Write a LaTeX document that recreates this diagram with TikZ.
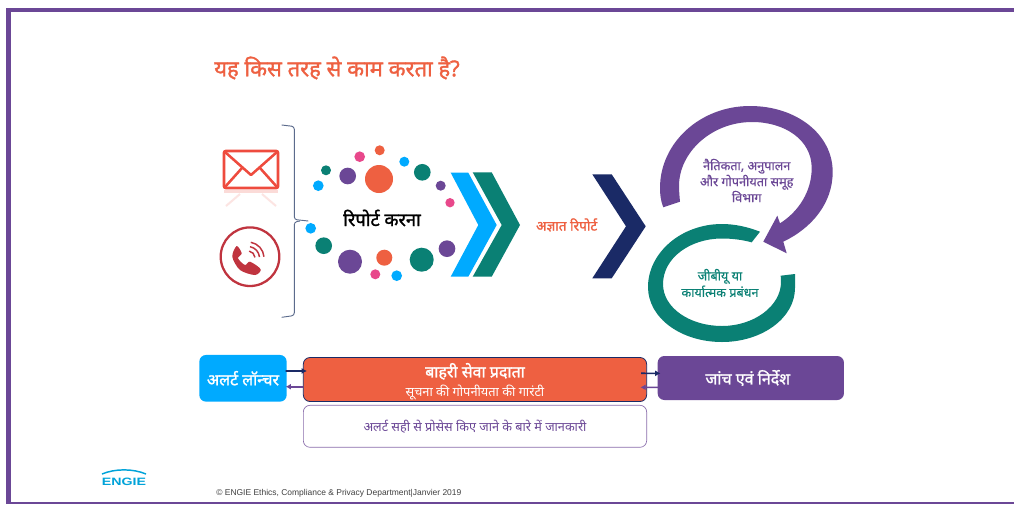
\documentclass[tikz,border=0pt]{standalone}
\usepackage{fontspec}
\setmainfont[Script=Devanagari]{Noto Sans}
\newfontfamily\heavyfont[Script=Devanagari,FakeBold=1.4]{Noto Sans}
\newfontfamily\mediumfont[Script=Devanagari,FakeBold=0.5]{Noto Sans}
\newfontfamily\latinfont{Liberation Sans}
\definecolor{rimpurple}{HTML}{6B4796}
\definecolor{ringteal}{HTML}{0A8074}
\definecolor{skyblue}{HTML}{00AAFF}
\definecolor{flameorange}{HTML}{EE6041}
\definecolor{dotpink}{HTML}{E8488B}
\definecolor{deepnavy}{HTML}{1A2A66}
\definecolor{mailred}{HTML}{EE4B3E}
\definecolor{phonered}{HTML}{C0343F}
\definecolor{bracketgrey}{HTML}{5B6B8C}
\definecolor{engieblue}{HTML}{00A3D9}
\usetikzlibrary{arrows.meta}

\begin{document}
\begin{tikzpicture}[x=0.75pt,y=-0.75pt]
        \tikzset{dot/.style = {shape=circle,inner sep=0pt,minimum size=#1}}
        \tikzset{box/.style = {shape=rectangle,rounded corners=5pt,inner sep=0pt,text=white}}
        \tikzset{link/.style = {-{Latex[length=4pt,width=4.5pt]},line width=1.2pt}}
        \tikzset{lbl/.style = {inner sep=0pt,align=center}}
        \useasboundingbox (0,0) rectangle (1014,504);
        % frame
        \fill[white] (0,0) rectangle (1014,504);
        \fill[rimpurple] (5.5,8) rectangle (1014,11.5);
        \fill[rimpurple] (5.5,8) rectangle (11,504);
        \fill[rimpurple] (5.5,501.5) rectangle (1014,504);
        % title
        \node[lbl,text=flameorange,font=\heavyfont\fontsize{16.5pt}{20pt}\selectfont] (title) at (337,68) {यह किस तरह से काम करता है?};
        % mail icon
        \draw[mailred,line width=2.1pt,rounded corners=1.5pt] (224,151) rectangle (278,188);
        \draw[mailred,line width=1.9pt,line join=round] (225,152) -- (251,175) -- (277,152);
        \draw[mailred,line width=1.9pt] (225,187) -- (242,168) (277,187) -- (260,168);
        \draw[mailred,opacity=.2,line width=1.6pt] (224,191.5) -- (278,191.5);
        \draw[mailred,opacity=.15,line width=1.5pt] (226,206) -- (240,194) (276,206) -- (262,194);
        % phone icon
        \draw[phonered,line width=1.7pt] (250,256.7) circle (29.3);
        \fill[phonered] plot[smooth cycle] coordinates {(236.7,246) (241.7,253.3) (238,258.3) (245,265) (250,261.7) (260.7,269.3) (255,275) (240,270) (232.3,256.7)};
        \draw[phonered,line width=1.1pt] (249.2,251.1) arc[start angle=-80,end angle=-5,radius=7];
        \draw[phonered,line width=1.1pt] (250,246.7) arc[start angle=-80,end angle=-5,radius=11.5];
        \draw[phonered,line width=1.1pt] (250.8,242.3) arc[start angle=-80,end angle=-5,radius=16];
        % bracket
        \draw[bracketgrey,line width=.7pt,rounded corners=2pt] (281.7,125) -- (294.3,126.5) -- (294.3,219.5) -- (308.3,221);
        \draw[bracketgrey,line width=.7pt,rounded corners=2pt] (281.7,317.3) -- (294.3,315.5) -- (294.3,222) -- (300,221);
        % dots
        \node[dot=21pt,fill=flameorange] (d1) at (379,179) {};
        \node[dot=12.5pt,fill=rimpurple] (d2) at (347.7,176) {};
        \node[dot=7.5pt,fill=ringteal] (d3) at (326,170.3) {};
        \node[dot=8pt,fill=skyblue] (d4) at (318.3,185.7) {};
        \node[dot=8pt,fill=dotpink] (d5) at (359.7,156.7) {};
        \node[dot=7.5pt,fill=flameorange] (d6) at (379.7,150.3) {};
        \node[dot=7.5pt,fill=skyblue] (d7) at (404.3,161.7) {};
        \node[dot=12.5pt,fill=ringteal] (d8) at (422.3,172.3) {};
        \node[dot=7.5pt,fill=rimpurple] (d9) at (440.7,185.7) {};
        \node[dot=7pt,fill=dotpink] (d10) at (450,202.7) {};
        \node[dot=8pt,fill=skyblue] (d11) at (310.7,228.3) {};
        \node[dot=12.5pt,fill=ringteal] (d12) at (323.7,245.7) {};
        \node[dot=18pt,fill=rimpurple] (d13) at (350,261.7) {};
        \node[dot=12pt,fill=flameorange] (d14) at (384.3,257.7) {};
        \node[dot=7.5pt,fill=dotpink] (d15) at (375.3,274.3) {};
        \node[dot=8pt,fill=skyblue] (d16) at (396.7,275.7) {};
        \node[dot=18pt,fill=ringteal] (d17) at (421.7,259.7) {};
        \node[dot=12.5pt,fill=rimpurple] (d18) at (447,248.7) {};
        \node[lbl,text=black,font=\heavyfont\fontsize{13.7pt}{16pt}\selectfont] (report) at (382,218) {रिपोर्ट करना};
        % chevrons
        \fill[skyblue] (450.7,172.7) -- (468.3,172.7) -- (496.7,225) -- (468.3,276.7) -- (450.7,276.7) -- (478.3,225) -- cycle;
        \fill[ringteal] (472.7,172.3) -- (491.7,172.3) -- (520,225) -- (491.7,276.7) -- (472.7,276.7) -- (501.7,225) -- cycle;
        \fill[deepnavy] (592.3,174.3) -- (611.7,174.3) -- (645.7,226.3) -- (611.7,278.3) -- (592.3,278.3) -- (626,226.3) -- cycle;
        \node[lbl,text=flameorange,font=\heavyfont\fontsize{10.2pt}{12pt}\selectfont] (anon) at (566.7,225) {अज्ञात रिपोर्ट};
        % rings
        \fill[rimpurple] (663.3,207.3) .. controls (660.5,200) and (660,194) .. (660,188)
            .. controls (660,143) and (700,106) .. (750,106)
            .. controls (796,106) and (832.7,134) .. (832.7,172)
            .. controls (832.7,203) and (812,228) .. (783.3,241.7)
            -- (786.7,253.3) -- (763.3,241.7) -- (777.3,215.7) -- (780,223.3)
            .. controls (798,212) and (811.7,192) .. (811.7,168)
            .. controls (811.7,140) and (785,122) .. (752,122)
            .. controls (712,122) and (679,152) .. (679,186)
            .. controls (679,191) and (679.5,196) .. (680,201.7) -- cycle;
        \fill[ringteal] (760,231.7) .. controls (748,227) and (735,224) .. (722,224)
            .. controls (681,224) and (648,253) .. (648,287)
            .. controls (648,318) and (681,342) .. (722,342)
            .. controls (762,342) and (795,318) .. (795,288)
            -- (795,274) -- (780.7,275.7) -- (781,282)
            .. controls (781,306) and (754,326) .. (722,326)
            .. controls (690,326) and (663,308) .. (663,284)
            .. controls (663,258) and (690,238.5) .. (722,238.5)
            .. controls (733,238.5) and (743,240) .. (751.7,242.3) -- cycle;
        \node[lbl,text=rimpurple,font=\mediumfont\fontsize{9.5pt}{12pt}\selectfont] (ethics) at (746.7,180.5) {नैतिकता, अनुपालन\\और गोपनीयता समूह\\विभाग};
        \node[lbl,text=ringteal,font=\mediumfont\fontsize{9.5pt}{12.5pt}\selectfont] (gbu) at (720,283) {जीबीयू या\\कार्यात्मक प्रबंधन};
        % boxes
        \node[box,fill=skyblue,minimum width=65.5pt,minimum height=35pt,font=\heavyfont\fontsize{12pt}{14pt}\selectfont] (launcher) at (243,378.3) {अलर्ट लॉन्चर};
        \node[box,fill=flameorange,draw=deepnavy,line width=.6pt,minimum width=257.5pt,minimum height=33pt,align=center] (provider) at (475,379.5) {{\heavyfont\fontsize{12pt}{14pt}\selectfont\rule{0pt}{14pt}बाहरी सेवा प्रदाता}\\[2.5pt]{\fontsize{9.6pt}{11pt}\selectfont सूचना की गोपनीयता की गारंटी}};
        \node[box,fill=white,draw=rimpurple!80,line width=.5pt,minimum width=257.5pt,minimum height=31.5pt,text=rimpurple,font=\fontsize{9.5pt}{11pt}\selectfont] (info) at (475,426.3) {अलर्ट सही से प्रोसेस किए जाने के बारे में जानकारी};
        \node[box,fill=rimpurple,minimum width=139.7pt,minimum height=33pt,font=\heavyfont\fontsize{12pt}{14pt}\selectfont] (inquiry) at (750.8,378) {जांच एवं निर्देश\hspace*{4.5pt}};
        %edges
        \draw[link,deepnavy,shorten <=-1pt,shorten >=-3pt] ([yshift=5.5pt]launcher.east) -- ([yshift=6.4pt]provider.west);
        \draw[link,rimpurple,shorten >=-1pt] ([yshift=-5.4pt]provider.west) -- ([yshift=-6.3pt]launcher.east);
        \draw[link,deepnavy,shorten <=-4.5pt,shorten >=-2.3pt] ([yshift=4.65pt]provider.east) -- ([yshift=3.5pt]inquiry.west);
        \draw[link,rimpurple,shorten <=-1.7pt,shorten >=-5pt] ([yshift=-7pt]inquiry.west) -- ([yshift=-5.85pt]provider.east);
        % footer
        \draw[engieblue,line width=1.1pt] (102,474) .. controls (115,468.5) and (133,468.5) .. (146,474);
        \node[lbl,text=engieblue,font=\latinfont\fontsize{8pt}{10pt}\selectfont\bfseries] (engie) at (124,482) {\scalebox{1.33}[1]{ENGIE}};
        \node[lbl,anchor=west,text=black!75,font=\latinfont\fontsize{6.35pt}{8pt}\selectfont] (footer) at (216,493.5) {© ENGIE Ethics, Compliance \& Privacy Department|Janvier 2019};
\end{tikzpicture}
\end{document}
